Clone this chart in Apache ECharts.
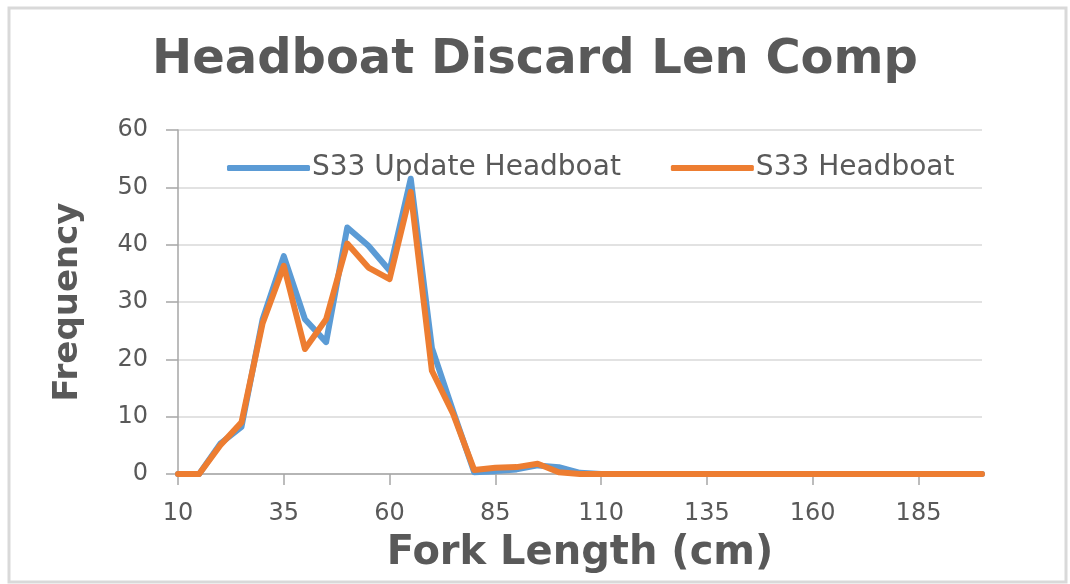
<!DOCTYPE html>
<html>
<head>
<meta charset="utf-8">
<script src="https://cdn.jsdelivr.net/npm/echarts@6/dist/echarts.min.js"></script>
<style>
  html, body { margin: 0; padding: 0; background: #fff; }
  #chart { width: 1070px; height: 584px; }
</style>
</head>
<body>
<div id="chart"></div>
<script>
// Fork length bins (cm), 5 cm apart
const lengths = [10, 15, 20, 25, 30, 35, 40, 45, 50, 55, 60, 65, 70, 75, 80, 85, 90, 95,
  100, 105, 110, 115, 120, 125, 130, 135, 140, 145, 150, 155, 160, 165, 170, 175, 180, 185,
  190, 195, 200];

// Discard frequencies per bin
const updateHeadboat = [0, 0, 5.3, 8.2, 27, 38, 27, 23, 43, 39.8, 35.5, 51.5, 22, 11, 0.3,
  0.5, 0.8, 1.5, 1.2, 0.2, 0, 0, 0, 0, 0, 0, 0, 0, 0, 0, 0, 0, 0, 0, 0, 0, 0, 0, 0];
const headboat = [0, 0, 5, 9, 26.3, 36.3, 21.8, 27, 40.2, 36, 34, 49.2, 18, 10.5, 0.7,
  1.1, 1.2, 1.8, 0.3, 0, 0, 0, 0, 0, 0, 0, 0, 0, 0, 0, 0, 0, 0, 0, 0, 0, 0, 0, 0];

const seriesNames = ['S33 Update Headboat', 'S33 Headboat'];
const seriesColors = ['#5b9bd5', '#ed7d31'];

const textGray = '#595959';
const axisGray = '#a6a6a6';
const chart = echarts.init(document.getElementById('chart'));

chart.setOption({
  animation: false,
  backgroundColor: '#fff',
  title: {
    text: 'Headboat Discard Len Comp',
    left: 'center',
    top: 32,
    textStyle: {
      fontFamily: 'DejaVu Sans',
      fontWeight: 'bold',
      fontSize: 48,
      color: textGray
    }
  },
  legend: {
    left: 222,
    top: 149,
    itemWidth: 83,
    itemHeight: 6,
    itemGap: 50,
    icon: 'roundRect',
    textStyle: {
      fontFamily: 'DejaVu Sans',
      fontSize: 28,
      color: textGray,
      padding: [0, 0, 0, -3]
    },
    data: seriesNames
  },
  grid: { left: 178, right: 88, top: 130, bottom: 110, containLabel: false },
  xAxis: {
    type: 'category',
    data: lengths,
    boundaryGap: false,
    name: 'Fork Length (cm)',
    nameLocation: 'middle',
    nameGap: 60,
    nameTextStyle: {
      fontFamily: 'DejaVu Sans',
      fontWeight: 'bold',
      fontSize: 40,
      color: textGray
    },
    axisLine: { lineStyle: { color: axisGray, width: 1.5 } },
    axisTick: { interval: 4, length: 11, lineStyle: { color: axisGray, width: 1.5 } },
    axisLabel: {
      interval: 4,
      margin: 28,
      fontFamily: 'DejaVu Sans',
      fontSize: 24,
      color: textGray
    },
    splitLine: { show: false }
  },
  yAxis: {
    type: 'value',
    min: 0,
    max: 60,
    interval: 10,
    name: 'Frequency',
    nameLocation: 'middle',
    nameGap: 93,
    nameTextStyle: {
      fontFamily: 'DejaVu Sans',
      fontWeight: 'bold',
      fontSize: 34,
      color: textGray
    },
    axisLine: { show: true, lineStyle: { color: axisGray, width: 1.5 } },
    axisTick: { show: true, length: 12, lineStyle: { color: axisGray, width: 1.5 } },
    axisLabel: {
      margin: 30,
      fontFamily: 'DejaVu Sans',
      fontSize: 24,
      color: textGray
    },
    splitLine: { lineStyle: { color: '#d9d9d9', width: 1.5 } }
  },
  series: [
    {
      name: seriesNames[0],
      type: 'line',
      data: updateHeadboat,
      symbol: 'none',
      color: seriesColors[0],
      lineStyle: { width: 6, color: seriesColors[0], join: 'round', cap: 'round' }
    },
    {
      name: seriesNames[1],
      type: 'line',
      data: headboat,
      symbol: 'none',
      color: seriesColors[1],
      lineStyle: { width: 6, color: seriesColors[1], join: 'round', cap: 'round' }
    }
  ],
  graphic: [{
    type: 'rect',
    shape: { x: 9, y: 8, width: 1057, height: 574 },
    style: { fill: 'none', stroke: '#d9d9d9', lineWidth: 3 },
    silent: true
  }]
});
</script>
</body>
</html>
